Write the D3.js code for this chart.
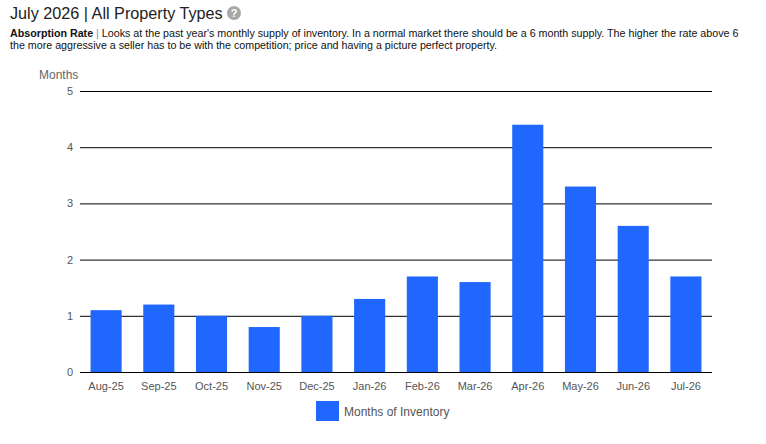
<!DOCTYPE html>
<html>
<head>
<meta charset="utf-8">
<script src="https://cdn.jsdelivr.net/npm/d3@7"></script>
<style>
  body { margin: 0; background: #fff; font-family: Arial, "Liberation Sans", sans-serif; }
</style>
</head>
<body>
<div id="wrapper"></div>
<script>
const categories = ["Aug-25", "Sep-25", "Oct-25", "Nov-25", "Dec-25", "Jan-26", "Feb-26", "Mar-26", "Apr-26", "May-26", "Jun-26", "Jul-26"];
const monthsOfInventory = [1.1, 1.2, 1.0, 0.8, 1.0, 1.3, 1.7, 1.6, 4.4, 3.3, 2.6, 1.7];
const yTicks = [0, 1, 2, 3, 4, 5];
const seriesName = "Months of Inventory";

function buildPlot() {
    const width = 766, height = 444;
    const plot = { left: 80, right: 712, top: 91, bottom: 372 };

    const svg = d3.select("#wrapper")
        .append("svg")
        .attr("width", width)
        .attr("height", height)
        .style("font-family", "Arial, 'Liberation Sans', sans-serif");

    // title
    svg.append("text")
        .attr("x", 10)
        .attr("y", 19)
        .style("font-size", "16.2px")
        .attr("fill", "#222")
        .text("July 2026 | All Property Types");

    const help = svg.append("g").attr("transform", "translate(234,13)");
    help.append("circle").attr("r", 7).attr("fill", "#a8a8a8");
    help.append("text")
        .attr("text-anchor", "middle")
        .attr("y", 4)
        .style("font-size", "11px")
        .style("font-weight", "bold")
        .attr("fill", "#fff")
        .text("?");

    // description
    const line1 = svg.append("text")
        .attr("x", 10).attr("y", 37)
        .style("font-size", "10.7px")
        .attr("fill", "#111");
    line1.append("tspan").style("font-weight", "bold").text("Absorption Rate ");
    line1.append("tspan").attr("fill", "#5b9bd5").text("|");
    line1.append("tspan").text(" Looks at the past year's monthly supply of inventory. In a normal market there should be a 6 month supply. The higher the rate above 6");
    svg.append("text")
        .attr("x", 10).attr("y", 49)
        .style("font-size", "10.7px")
        .attr("fill", "#111")
        .text("the more aggressive a seller has to be with the competition; price and having a picture perfect property.");

    const xScale = d3.scaleBand()
        .domain(categories)
        .range([plot.left, plot.right])
        .paddingInner(0.41)
        .paddingOuter(0.2);

    const yScale = d3.scaleLinear()
        .domain([0, 5])
        .range([plot.bottom, plot.top]);

    // gridlines
    const yAxis = svg.append("g")
        .attr("transform", `translate(${plot.left},0)`)
        .call(d3.axisLeft(yScale)
            .tickValues(yTicks)
            .tickSize(-(plot.right - plot.left))
            .tickPadding(7)
            .tickFormat(d3.format("d")));
    yAxis.select(".domain").remove();
    yAxis.selectAll(".tick line").attr("stroke", "#000").attr("stroke-width", 1);
    yAxis.selectAll(".tick text")
        .attr("fill", "#555")
        .style("font-size", "11px")
        .style("font-family", "Arial, 'Liberation Sans', sans-serif");

    svg.append("text")
        .attr("x", 39)
        .attr("y", 79)
        .style("font-size", "12px")
        .attr("fill", "#666")
        .text("Months");

    // bars
    svg.append("g")
        .selectAll("rect")
        .data(categories)
        .join("rect")
        .attr("x", (d) => xScale(d))
        .attr("width", xScale.bandwidth())
        .attr("y", (d, i) => yScale(monthsOfInventory[i]))
        .attr("height", (d, i) => yScale(0) - yScale(monthsOfInventory[i]))
        .attr("fill", "#1f67fd");

    // redraw baseline above bars
    svg.append("line")
        .attr("x1", plot.left).attr("x2", plot.right)
        .attr("y1", yScale(0) + 0.5).attr("y2", yScale(0) + 0.5)
        .attr("stroke", "#000");

    const xAxis = svg.append("g")
        .attr("transform", `translate(0,${plot.bottom})`)
        .call(d3.axisBottom(xScale).tickSize(0).tickPadding(10));
    xAxis.select(".domain").remove();
    xAxis.selectAll(".tick text")
        .attr("fill", "#555")
        .style("font-size", "11px")
        .style("font-family", "Arial, 'Liberation Sans', sans-serif");

    // legend
    const legend = svg.append("g").attr("transform", "translate(316,401)");
    legend.append("rect").attr("width", 23).attr("height", 20).attr("fill", "#1f67fd");
    legend.append("text")
        .attr("x", 28)
        .attr("y", 15)
        .style("font-size", "12px")
        .attr("fill", "#555")
        .text(seriesName);
}

buildPlot();
</script>
</body>
</html>
